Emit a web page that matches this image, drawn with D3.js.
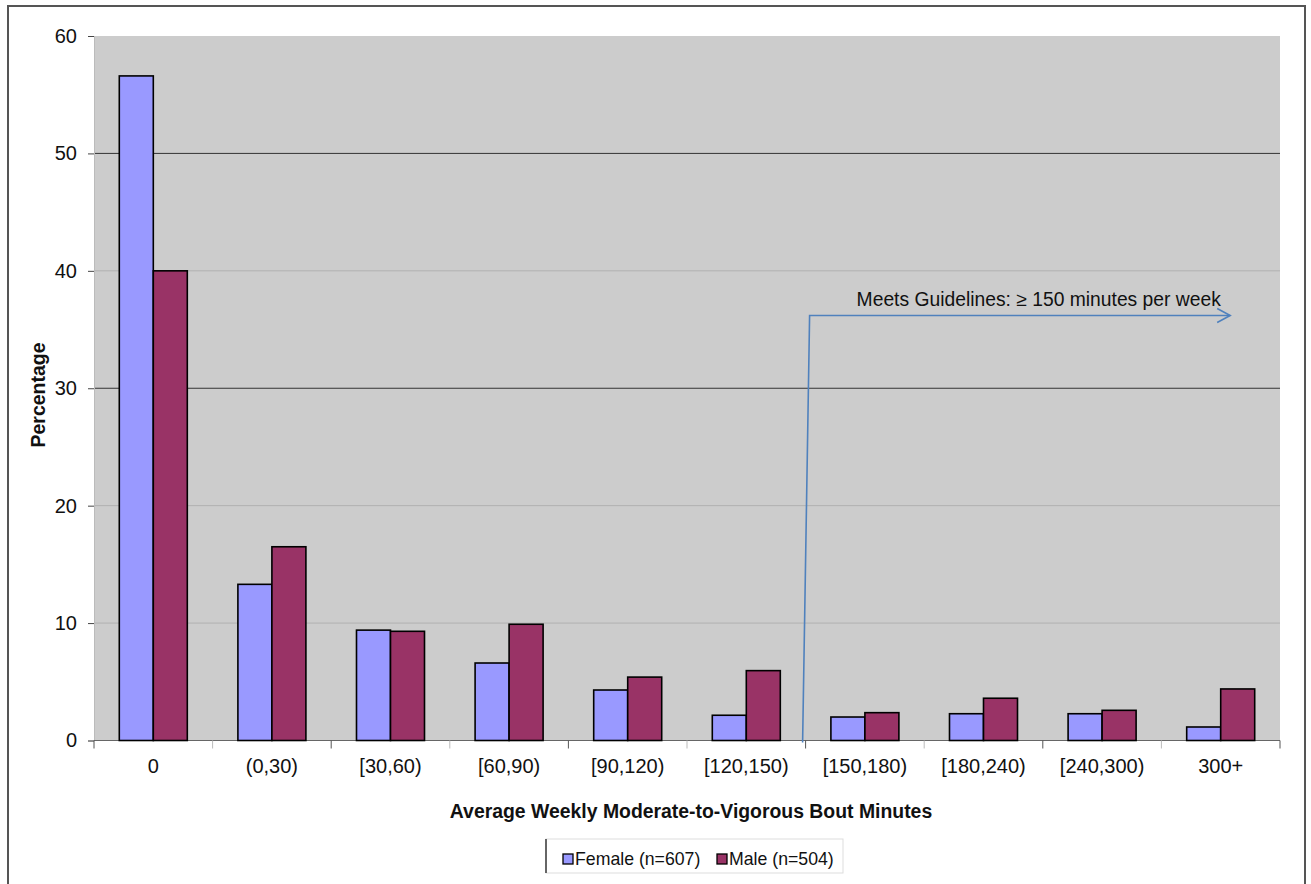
<!DOCTYPE html>
<html>
<head>
<meta charset="utf-8">
<script src="https://cdn.jsdelivr.net/npm/d3@7"></script>
<style>
  body { margin: 0; background: #fff; }
  svg { display: block; font-family: "Liberation Sans", Arial, sans-serif; }
</style>
</head>
<body>
<svg id="chart" width="1311" height="884"></svg>
<script>
// data
const categories = ["0", "(0,30)", "[30,60)", "[60,90)", "[90,120)", "[120,150)", "[150,180)", "[180,240)", "[240,300)", "300+"];
const series = ["Female (n=607)", "Male (n=504)"];
const female = [56.6, 13.3, 9.4, 6.6, 4.3, 2.15, 2.0, 2.28, 2.28, 1.15];
const male = [40.0, 16.5, 9.3, 9.9, 5.4, 5.95, 2.37, 3.6, 2.57, 4.39];
const yTicks = [0, 10, 20, 30, 40, 50, 60];
const colors = ["#9999ff", "#993366"];

const margin = { top: 36, right: 31, bottom: 143.5, left: 94 },
    W = 1311, H = 884,
    width = W - margin.left - margin.right,
    height = H - margin.top - margin.bottom;

const svg = d3.select("#chart");

// outer frame
svg.append("rect")
    .attr("x", 8).attr("y", 6)
    .attr("width", 1297).attr("height", 900)
    .attr("fill", "none")
    .attr("stroke", "#555")
    .attr("stroke-width", 2);

const g = svg.append("g")
    .attr("transform", `translate(${margin.left},${margin.top})`);

const x = d3.scaleBand().domain(categories).range([0, width]).padding(0);
const x1 = d3.scaleBand().domain(series).range([0, x.bandwidth()]).paddingInner(0).paddingOuter(0.744);
const y = d3.scaleLinear().domain([0, 60]).range([height, 0]);

// plot background
g.append("rect")
    .attr("width", width).attr("height", height)
    .attr("fill", "#cccccc");

// gridlines
g.append("g")
    .selectAll("line")
    .data(yTicks.filter(d => d > 0 && d < 60))
    .join("line")
    .attr("x1", 0).attr("x2", width)
    .attr("y1", d => y(d)).attr("y2", d => y(d))
    .attr("stroke", d => (d === 30 || d === 50) ? "#333" : "#b0b0b0")
    .attr("stroke-width", 1);

// y axis
const yAxis = g.append("g")
    .call(d3.axisLeft(y).tickValues(yTicks).tickSize(6).tickPadding(11))
    .style("font-size", "20px")
    .style("font-family", "inherit");
yAxis.select(".domain").attr("stroke", "#bbb");
yAxis.selectAll(".tick line").attr("stroke", "#444");
yAxis.selectAll(".tick text").attr("fill", "#111");

// x axis with ticks at category boundaries
g.append("line")
    .attr("x1", 0).attr("x2", width)
    .attr("y1", height).attr("y2", height)
    .attr("stroke", "#666");
g.append("g")
    .selectAll("line")
    .data(d3.range(categories.length + 1))
    .join("line")
    .attr("x1", i => i * x.step()).attr("x2", i => i * x.step())
    .attr("y1", height).attr("y2", height + 8)
    .attr("stroke", (i) => i % 2 ? "#bbb" : "#555");
g.append("g")
    .selectAll("text")
    .data(categories)
    .join("text")
    .attr("x", d => x(d) + x.bandwidth() / 2)
    .attr("y", height + 32)
    .attr("text-anchor", "middle")
    .style("font-size", "20px")
    .attr("fill", "#111")
    .text(d => d);

// bars
const rows = categories.map((c, i) => ({ cat: c, vals: [female[i], male[i]] }));
g.append("g")
    .selectAll("g")
    .data(rows)
    .join("g")
    .attr("transform", d => `translate(${x(d.cat)},0)`)
    .selectAll("rect")
    .data(d => d.vals.map((v, j) => ({ s: series[j], v, j })))
    .join("rect")
    .attr("x", d => x1(d.s))
    .attr("y", d => y(d.v))
    .attr("width", x1.bandwidth())
    .attr("height", d => y(0) - y(d.v))
    .attr("fill", d => colors[d.j])
    .attr("stroke", "#000")
    .attr("stroke-width", 1.6);

// guideline arrow
const ax0 = x("[150,180)") - 3, ax1 = x("[150,180)") + 4;
const ay = y(36.2);
const axEnd = x("300+") + x.bandwidth() * 0.58;
const arrowColor = "#4f81bd";
g.append("path")
    .attr("d", `M${ax0},${height + 2} L${ax1},${ay} L${axEnd},${ay}`)
    .attr("fill", "none")
    .attr("stroke", arrowColor)
    .attr("stroke-width", 1.6);
g.append("path")
    .attr("d", `M${axEnd - 13},${ay - 7} L${axEnd},${ay} L${axEnd - 13},${ay + 7}`)
    .attr("fill", "none")
    .attr("stroke", arrowColor)
    .attr("stroke-width", 1.6);
g.append("text")
    .attr("x", ax1 + 47)
    .attr("y", ay - 9)
    .style("font-size", "19.3px")
    .attr("fill", "#111")
    .text("Meets Guidelines: \u2265 150 minutes per week");

// axis titles
svg.append("text")
    .attr("x", margin.left + width / 2 + 4)
    .attr("y", 818)
    .attr("text-anchor", "middle")
    .style("font-size", "19.4px")
    .style("font-weight", "bold")
    .attr("fill", "#111")
    .text("Average Weekly Moderate-to-Vigorous Bout Minutes");

svg.append("text")
    .attr("transform", "translate(45,395) rotate(-90)")
    .attr("text-anchor", "middle")
    .style("font-size", "19.5px")
    .style("font-weight", "bold")
    .attr("fill", "#111")
    .text("Percentage");

// legend
const lg = svg.append("g").attr("transform", "translate(546,839)");
lg.append("rect")
    .attr("width", 297).attr("height", 34)
    .attr("fill", "#fff")
    .attr("stroke", "#ddd");
lg.append("line")
    .attr("x1", 0).attr("x2", 0).attr("y1", 0).attr("y2", 34)
    .attr("stroke", "#666").attr("stroke-width", 2);
const legendX = [17, 171];
series.forEach((s, i) => {
    lg.append("rect")
        .attr("x", legendX[i]).attr("y", 15)
        .attr("width", 10).attr("height", 10)
        .attr("fill", colors[i])
        .attr("stroke", "#000")
        .attr("stroke-width", 1.3);
    lg.append("text")
        .attr("x", legendX[i] + 12)
        .attr("y", 26)
        .style("font-size", "17.7px")
        .attr("fill", "#111")
        .text(s);
});
</script>
</body>
</html>
